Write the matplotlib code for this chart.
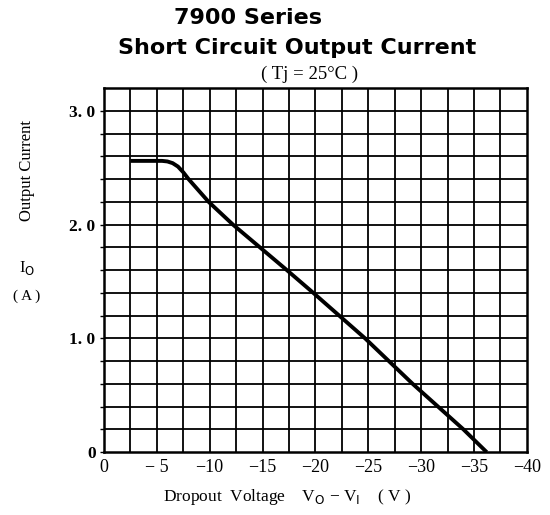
import numpy as np
import matplotlib.pyplot as plt

# ---- data ----
vdrop = [-2.5, -5.5, -6.0, -6.5, -7.0, -7.5, -8.0, -9.9, -12.2, -14.75,
         -17.3, -19.8, -24.7, -29.2, -34.0, -36.2]
iout = [2.56, 2.56, 2.555, 2.54, 2.51, 2.46, 2.40, 2.20, 2.00, 1.80,
        1.60, 1.40, 1.00, 0.60, 0.20, 0.0]

xticks = [0, -5, -10, -15, -20, -25, -30, -35, -40]
xticklabels = ["0", "\u2212 5", "\u221210", "\u221215", "\u221220",
               "\u221225", "\u221230", "\u221235", "\u221240"]
yticks = [0, 1.0, 2.0, 3.0]
yticklabels = ["0", "1. 0", "2. 0", "3. 0"]

serif = "Liberation Serif"
sans = "DejaVu Sans"

fig = plt.figure(figsize=(5.5, 5.15), dpi=100)
ax = fig.add_axes([0.189, 0.122, 0.769, 0.707])

ax.set_xlim(0, -40)
ax.set_ylim(0, 3.2)

# grid: 2.5 V by 0.2 A
for xv in np.arange(-2.5, -40, -2.5):
    ax.axvline(xv, color="black", lw=1.3, zorder=1)
for yv in np.arange(0.2, 3.2, 0.2):
    ax.axhline(yv, color="black", lw=1.3, zorder=1)

ax.plot(vdrop, iout, color="black", lw=2.8, solid_capstyle="butt", zorder=3)

for s in ax.spines.values():
    s.set_linewidth(1.8)

ax.set_xticks(xticks)
ax.set_xticklabels(xticklabels, fontfamily=serif, fontsize=13)
ax.set_yticks(yticks)
ax.set_yticklabels(yticklabels, fontfamily=serif, fontsize=12.5, fontweight="bold")
ax.set_yticks(np.arange(0.2, 3.2, 0.2), minor=True)
ax.tick_params(axis="x", length=0, pad=5)
ax.tick_params(axis="y", which="both", length=3, width=1.0, direction="out", pad=3)

# titles
fig.text(248 / 550, 1 - 18 / 515, "7900 Series", ha="center", va="center",
         fontfamily=sans, fontweight="bold", fontsize=16)
fig.text(297 / 550, 1 - 48 / 515, "Short Circuit Output Current", ha="center",
         va="center", fontfamily=sans, fontweight="bold", fontsize=16)
fig.text(310 / 550, 1 - 74 / 515, "( Tj = 25°C )", ha="center", va="center",
         fontfamily=serif, fontsize=13.5)

# y label
fig.text(27 / 550, 1 - 170 / 515, "Output Current", rotation=90, ha="center",
         va="center", fontfamily=serif, fontsize=12)
fig.text(27 / 550, 1 - 268 / 515, r"I$_{\mathrm{O}}$", ha="center", va="center",
         fontfamily=serif, fontsize=12)
fig.text(27 / 550, 1 - 296 / 515, "( A )", ha="center", va="center",
         fontfamily=serif, fontsize=11)

# x label
fig.text(287 / 550, 1 - 497 / 515,
         "Dropout  Voltage    V$_\\mathrm{O}$ \u2212 V$_\\mathrm{I}$    ( V )",
         ha="center", va="center", fontfamily=serif, fontsize=12.5)

fig.savefig("out.png", dpi=100)
